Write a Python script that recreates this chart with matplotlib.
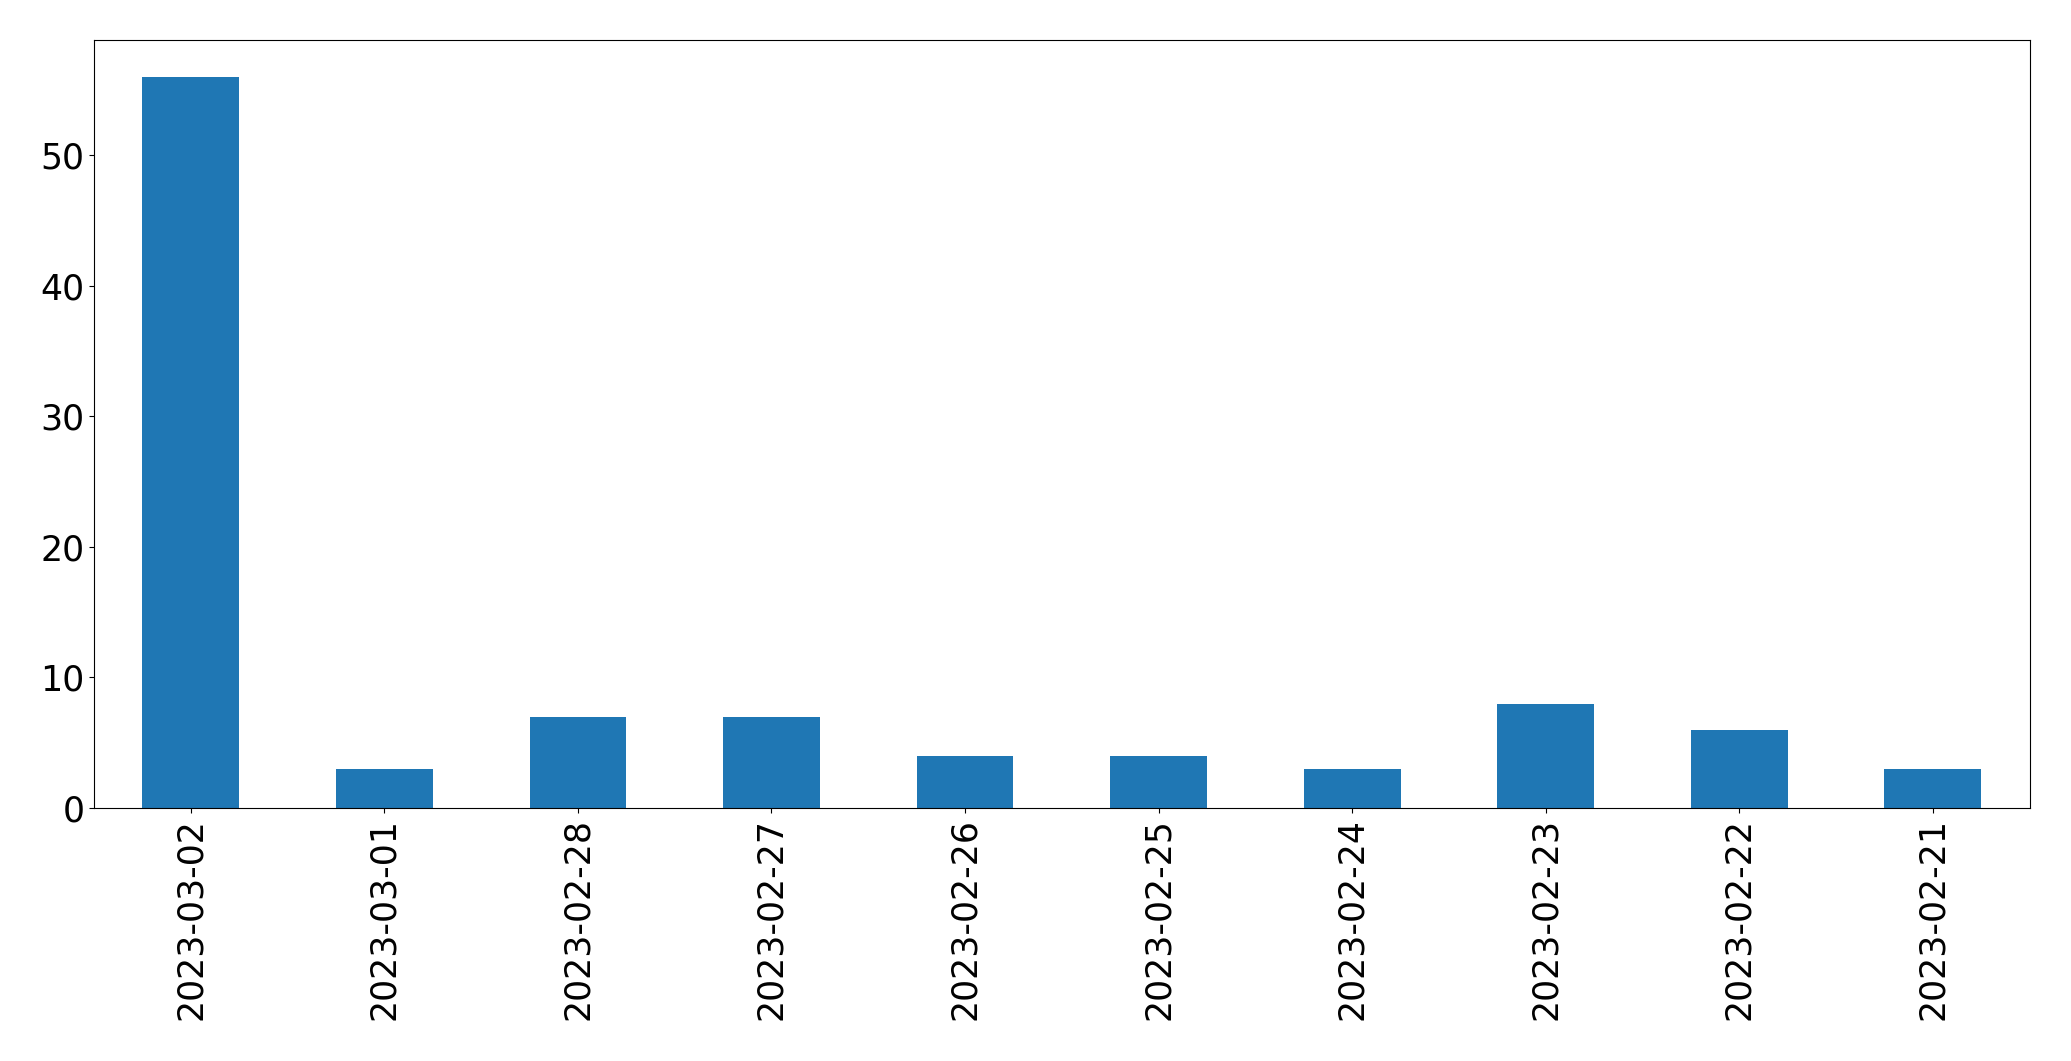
import pandas as pd
from matplotlib import pyplot as plt

# data
dates = ['2023-03-02', '2023-03-01', '2023-02-28', '2023-02-27', '2023-02-26',
         '2023-02-25', '2023-02-24', '2023-02-23', '2023-02-22', '2023-02-21']
counts = [56, 3, 7, 7, 4, 4, 3, 8, 6, 3]

plt.rcParams['font.size'] = 25

s = pd.Series(counts, index=dates)

fig, ax = plt.subplots(figsize=(20.71, 10.61), dpi=100)
s.plot(kind='bar', ax=ax, color='#1f77b4')
ax.tick_params(axis='both', labelsize=25)
plt.subplots_adjust(left=0.0454, right=0.980, top=0.962, bottom=0.2385)

plt.savefig('out.png', dpi=100)
